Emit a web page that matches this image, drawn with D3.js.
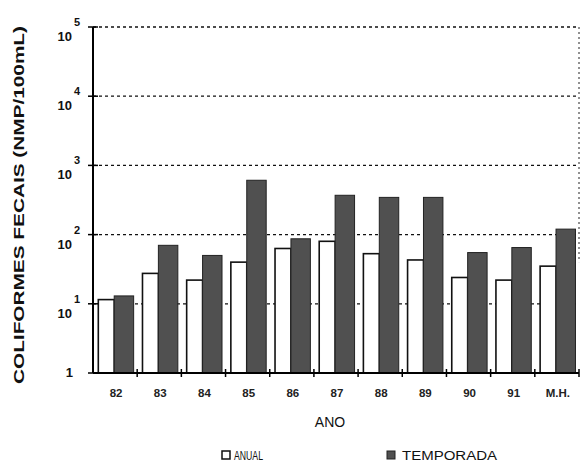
<!DOCTYPE html>
<html><head><meta charset="utf-8">
<script src="https://cdn.jsdelivr.net/npm/d3@7"></script>
<style>body{margin:0;background:#fff}svg{display:block}</style>
</head><body>
<svg id="c" width="582" height="466"></svg>
<script>
const categories = ["82","83","84","85","86","87","88","89","90","91","M.H."];
const anual      = [11.5, 27.5, 22, 40, 63, 80, 53, 43, 24, 22, 35];
const temporada  = [13, 70, 50, 610, 87, 370, 345, 345, 55, 65, 120];
const yTickValues = [1, 10, 100, 1000, 10000, 100000];
const yTickExps   = ["", "1", "2", "3", "4", "5"];
const seriesNames = ["ANUAL", "TEMPORADA"];

const svg = d3.select("#c");
const font = "Liberation Sans, Arial, sans-serif";
const x = d3.scaleBand().domain(categories).range([93, 579]).paddingInner(0).paddingOuter(0);
const y = d3.scaleLog().domain([1, 1e5]).range([373, 27]);
const bw = x.bandwidth();

// gridlines
svg.append("g").selectAll("line").data(yTickValues.slice(1)).join("line")
  .attr("x1", 93).attr("x2", 579).attr("y1", d => y(d)).attr("y2", d => y(d))
  .attr("stroke", "#111").attr("stroke-width", 1.3).attr("stroke-dasharray", "3,3");
// right dotted border
svg.append("line").attr("x1", 579).attr("x2", 579).attr("y1", y(1e5)).attr("y2", y(40))
  .attr("stroke", "#222").attr("stroke-width", 1).attr("stroke-dasharray", "2,3");

// bars
const g = svg.append("g");
g.selectAll("rect.a").data(categories).join("rect").attr("class","a")
  .attr("x", d => x(d) + 0.12*bw).attr("width", 0.36*bw)
  .attr("y", (d,i) => y(anual[i])).attr("height", (d,i) => y(1) - y(anual[i]))
  .attr("fill", "#fff").attr("stroke", "#111").attr("stroke-width", 1.6);
g.selectAll("rect.t").data(categories).join("rect").attr("class","t")
  .attr("x", d => x(d) + 0.48*bw).attr("width", 0.44*bw)
  .attr("y", (d,i) => y(temporada[i])).attr("height", (d,i) => y(1) - y(temporada[i]))
  .attr("fill", "#505050").attr("stroke", "#222").attr("stroke-width", 1);

// y axis line
svg.append("line").attr("x1", 93).attr("x2", 93).attr("y1", y(1e5)).attr("y2", y(1))
  .attr("stroke", "#000").attr("stroke-width", 2);
svg.append("g").selectAll("line").data(yTickValues).join("line")
  .attr("x1", 88).attr("x2", 98).attr("y1", d => y(d)).attr("y2", d => y(d))
  .attr("stroke", "#000").attr("stroke-width", 1.5);
// x axis line
svg.append("line").attr("x1", 93).attr("x2", 579).attr("y1", y(1)).attr("y2", y(1))
  .attr("stroke", "#000").attr("stroke-width", 2);
svg.append("g").selectAll("line").data(categories.slice(1).concat(["__end"])).join("line")
  .attr("x1", d => d === "__end" ? 579 : x(d)).attr("x2", d => d === "__end" ? 579 : x(d))
  .attr("y1", y(1) - 4).attr("y2", y(1) + 4)
  .attr("stroke", "#000").attr("stroke-width", 1.5);

// y tick labels
const yl = svg.append("g").attr("font-family", font).attr("font-weight", "bold").attr("fill", "#111");
yTickValues.forEach((v, i) => {
  if (i === 0) {
    yl.append("text").attr("x", 73).attr("y", y(v) + 4).attr("text-anchor", "end")
      .attr("font-size", 13).text("1");
  } else {
    yl.append("text").attr("x", 72).attr("y", y(v) + 14).attr("text-anchor", "end")
      .attr("font-size", 13).text("10");
    yl.append("text").attr("x", 74).attr("y", y(v) - 1).attr("font-size", 11).text(yTickExps[i]);
  }
});

// x tick labels
svg.append("g").selectAll("text").data(categories).join("text")
  .attr("x", d => x(d) + bw/2 + 1).attr("y", 397).attr("text-anchor", "middle")
  .attr("font-family", font).attr("font-weight", "bold").attr("font-size", 11.5).attr("fill", "#222")
  .text(d => d);

// axis titles
svg.append("text").attr("x", 330).attr("y", 427).attr("text-anchor", "middle")
  .attr("font-family", font).attr("font-size", 14).attr("fill", "#111").text("ANO");
svg.append("text").attr("transform", "translate(24,205) rotate(-90)").attr("text-anchor", "middle")
  .attr("font-family", font).attr("font-weight", "bold").attr("font-size", 14.5).attr("fill", "#111")
  .attr("textLength", 358).attr("lengthAdjust", "spacingAndGlyphs")
  .text("COLIFORMES FECAIS (NMP/100mL)");

// legend
const leg = svg.append("g").attr("font-family", font).attr("font-size", 12).attr("fill", "#111");
leg.append("rect").attr("x", 222).attr("y", 451).attr("width", 8).attr("height", 8)
  .attr("fill", "#fff").attr("stroke", "#111").attr("stroke-width", 1.5);
leg.append("text").attr("x", 234).attr("y", 460).attr("textLength", 29).attr("lengthAdjust", "spacingAndGlyphs").text(seriesNames[0]);
leg.append("rect").attr("x", 387).attr("y", 451).attr("width", 8).attr("height", 8)
  .attr("fill", "#505050").attr("stroke", "#222").attr("stroke-width", 1);
leg.append("text").attr("x", 402).attr("y", 460).attr("textLength", 95).attr("lengthAdjust", "spacingAndGlyphs").text(seriesNames[1]);
</script>
</body></html>
